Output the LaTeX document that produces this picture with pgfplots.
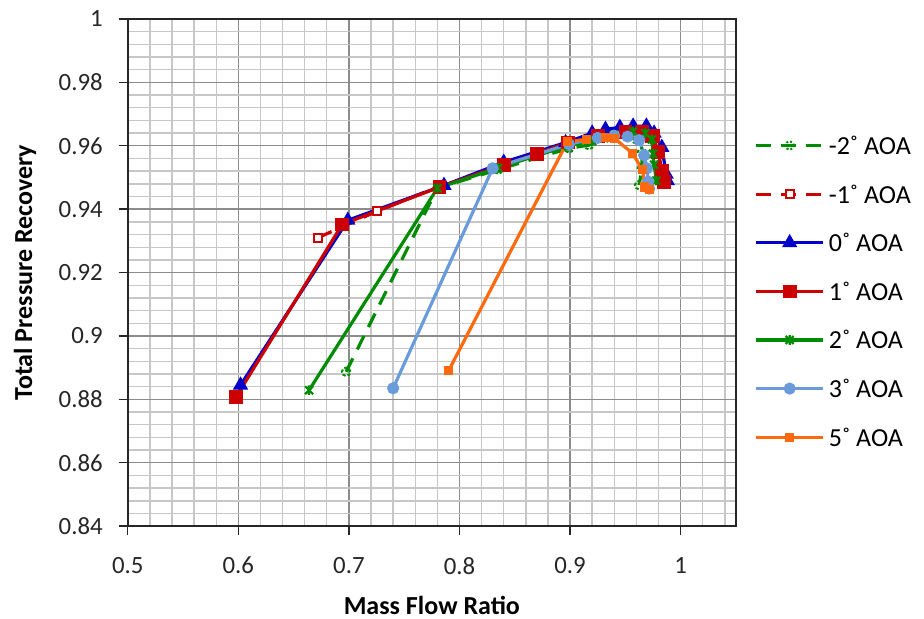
\documentclass[border=0pt]{standalone}
\usepackage{fontspec}
\setmainfont{Carlito}
\usepackage{pgfplots}
\pgfplotsset{compat=1.18}
\definecolor{cblue}{HTML}{0000CC}
\definecolor{cred}{HTML}{CC0000}
\definecolor{cgreen}{HTML}{008C00}
\definecolor{clblue}{HTML}{6A9BDB}
\definecolor{corange}{HTML}{FF6A10}
\pgfdeclareplotmark{xstar}{%
  \pgfpathmoveto{\pgfqpoint{-\pgfplotmarksize}{-\pgfplotmarksize}}%
  \pgfpathlineto{\pgfqpoint{\pgfplotmarksize}{\pgfplotmarksize}}%
  \pgfpathmoveto{\pgfqpoint{-\pgfplotmarksize}{\pgfplotmarksize}}%
  \pgfpathlineto{\pgfqpoint{\pgfplotmarksize}{-\pgfplotmarksize}}%
  \pgfpathmoveto{\pgfqpoint{0pt}{-1.2\pgfplotmarksize}}%
  \pgfpathlineto{\pgfqpoint{0pt}{1.2\pgfplotmarksize}}%
  \pgfusepathqstroke}
\begin{document}
\begin{tikzpicture}
\begin{axis}[name=ax, at={(0,0)}, anchor=south west, scale only axis,
  width=304pt, height=253.5pt,
  xmin=0.5, xmax=1.05, ymin=0.84, ymax=1,
  xtick={0.5,0.6,0.7,0.8,0.9,1},
  ytick={0.84,0.86,0.88,0.9,0.92,0.94,0.96,0.98,1},
  minor xtick={0.52,0.54,...,1.045},
  minor ytick={0.844,0.848,...,0.998},
  grid=both,
  major grid style={color=black!45, line width=0.7pt},
  minor grid style={color=black!22, line width=0.7pt},
  tick align=outside, xtick pos=left, ytick pos=left,
  major tick length=4.5pt, minor tick length=0pt,
  tick style={color=black!85, line width=0.7pt},
  axis line style={color=black!85, line width=0.8pt},
  /pgf/number format/assume math mode=true,
  tick label style={font=\fontsize{12.4}{14}\selectfont, color=black!85},
  xticklabel style={yshift=-7.5pt},
  yticklabel style={xshift=-4.5pt},
  xlabel={Mass Flow Ratio}, ylabel={Total Pressure Recovery},
  label style={font=\bfseries\fontsize{13}{15}\selectfont},
  xlabel style={at={(axis description cs:0.5,-0.156)}, anchor=center},
  ylabel style={at={(axis description cs:-0.169,0.5)}, anchor=center, rotate=0},
  legend image code/.code={\draw[mark repeat=2,mark phase=2] plot coordinates {(0pt,0pt) (16.75pt,0pt) (33.5pt,0pt)};},
  legend style={draw=none, fill=none, at={(1.03,0.777)}, anchor=north west,
    inner sep=0pt, row sep=11.3pt, font=\fontsize{13}{15}\selectfont,
    nodes={inner sep=2pt, text height=9pt, text depth=0pt}},
  legend cell align=left,
]
% -2 AOA
\addplot[color=cgreen, line width=1.6pt, dash pattern=on 7.5pt off 5pt, mark=o, mark size=2.1pt, mark options={solid, densely dotted, line width=1pt, fill=white}] coordinates {
(0.6975,0.8887) (0.780,0.9466) (0.835,0.9525) (0.899,0.9592) (0.917,0.9602) (0.935,0.9625) (0.950,0.9635) (0.960,0.9620) (0.965,0.9580) (0.965,0.9530) (0.9625,0.9476)};
\addlegendentry{-2˚ AOA}
% -1 AOA
\addplot[color=cred, line width=1.6pt, dash pattern=on 7.5pt off 5pt, mark=square*, mark size=2pt, mark options={solid, line width=1pt, fill=white}] coordinates {
(0.672,0.9310) (0.725,0.9393) (0.782,0.9472) (0.838,0.9535) (0.868,0.9570) (0.898,0.9605) (0.922,0.9625) (0.945,0.9638) (0.963,0.9640) (0.972,0.9625) (0.978,0.9575) (0.981,0.9520) (0.983,0.9485)};
\addlegendentry{-1˚ AOA}
% 0 AOA
\addplot[color=cblue, line width=1.6pt, mark=triangle*, mark size=2.8pt, mark options={solid}] coordinates {
(0.602,0.8845) (0.699,0.9365) (0.786,0.9475) (0.840,0.9548) (0.896,0.9610) (0.920,0.9640) (0.932,0.9652) (0.945,0.9658) (0.957,0.9662) (0.969,0.9662) (0.976,0.9640) (0.983,0.9595) (0.987,0.9510) (0.988,0.9490)};
\addlegendentry{0˚ AOA}
% 1 AOA
\addplot[color=cred, line width=1.6pt, mark=square*, mark size=2.6pt, mark options={solid}] coordinates {
(0.598,0.8808) (0.694,0.9352) (0.782,0.9470) (0.840,0.9540) (0.870,0.9575) (0.898,0.9610) (0.925,0.9630) (0.950,0.9645) (0.965,0.9645) (0.975,0.9630) (0.980,0.9580) (0.983,0.9520) (0.985,0.9485)};
\addlegendentry{1˚ AOA}
% 2 AOA
\addplot[color=cgreen, line width=1.6pt, mark=xstar, mark size=2pt, mark options={solid, line width=1.1pt}] coordinates {
(0.664,0.8829) (0.780,0.9466) (0.835,0.9530) (0.898,0.9600) (0.920,0.9615) (0.940,0.9635) (0.957,0.9645) (0.968,0.9640) (0.974,0.9620) (0.975,0.9575) (0.976,0.9540) (0.978,0.9490)};
\addlegendentry{2˚ AOA}
% 3 AOA
\addplot[color=clblue, line width=1.6pt, mark=*, mark size=2.2pt, mark options={solid}] coordinates {
(0.740,0.8835) (0.830,0.9529) (0.899,0.9605) (0.925,0.9625) (0.940,0.9632) (0.952,0.9629) (0.9625,0.9618) (0.967,0.9570) (0.9695,0.9529) (0.9707,0.9487) (0.9716,0.9465)};
\addlegendentry{3˚ AOA}
% 5 AOA
\addplot[color=corange, line width=1.6pt, mark=square*, mark size=1.5pt, mark options={solid}] coordinates {
(0.7904,0.8892) (0.8976,0.9613) (0.915,0.9620) (0.932,0.9626) (0.940,0.9624) (0.9565,0.9576) (0.9656,0.9524) (0.9675,0.9470) (0.9716,0.9463)};
\addlegendentry{5˚ AOA}
\end{axis}
\pgfresetboundingbox
\path[use as bounding box] ([xshift=-63.85pt,yshift=-46pt]ax.south west) rectangle ([xshift=94pt,yshift=9.5pt]ax.north east);
\end{tikzpicture}
\end{document}
